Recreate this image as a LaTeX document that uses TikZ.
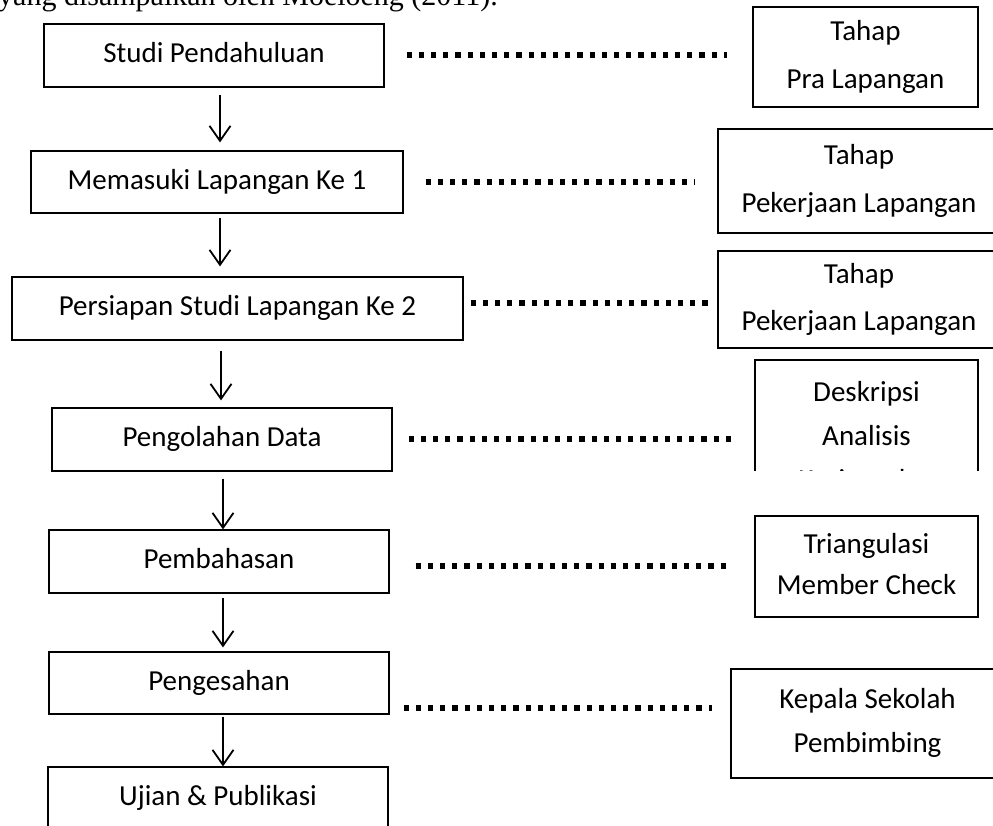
\documentclass[tikz,border=0pt]{standalone}
\usepackage{fontspec}
\setmainfont{Carlito}
\newfontfamily\headserif{Liberation Serif}
\usetikzlibrary{arrows.meta,calc}
\newcommand\zs{\vrule width 0pt height 20pt depth 6pt}
\begin{document}
\begin{tikzpicture}[x=1pt,y=-1pt,
  box/.style={draw=black, line width=1.2pt, rectangle, inner sep=0pt, align=center, font=\fontsize{29}{48}\selectfont},
  arr/.style={line width=1.8pt, -{Straight Barb[length=15pt,width=21pt]}},
  dotline/.style={line width=5.2pt, dash pattern=on 5.2pt off 7pt}]
\useasboundingbox (0,0) rectangle (993,825);
\clip (0,0) rectangle (993,825);

% cut-off heading line
\node[font=\headserif\fontsize{30}{36}\selectfont, anchor=base west, inner sep=0pt] (head) at (-2,5) {yang disampaikan oleh Moeloeng (2011).};

% left column
\node[box, minimum width=340pt, minimum height=63pt] (b1) at (214,55.5) {\zs Studi Pendahuluan};
\node[box, minimum width=372pt, minimum height=62pt] (b2) at (217,182) {\zs Memasuki Lapangan Ke 1};
\node[box, minimum width=451pt, minimum height=63pt] (b3) at (237.5,308.5) {\zs Persiapan Studi Lapangan Ke 2};
\node[box, minimum width=340pt, minimum height=63pt] (b4) at (222,439.5) {\zs Pengolahan Data};
\node[box, minimum width=340pt, minimum height=63pt] (b5) at (219,561.5) {\zs Pembahasan};
\node[box, minimum width=340pt, minimum height=62pt] (b6) at (219,683) {\zs Pengesahan};
\node[box, minimum width=340pt, minimum height=62pt] (b7) at (218,798) {\zs Ujian \& Publikasi};

% right column
\node[box, minimum width=225pt, minimum height=100pt] (r1) at (865.5,57) {\zs Tahap\\\zs Pra Lapangan};
\node[box, minimum width=282pt, minimum height=104pt] (r2) at (859,181) {\zs Tahap\\\zs Pekerjaan Lapangan};
\node[box, minimum width=282pt, minimum height=97pt, font={\fontsize{29}{47}\selectfont}] (r3) at (859,299.5) {\zs Tahap\\\zs Pekerjaan Lapangan};
\begin{scope}
\clip (740,350) rectangle (1000,470);
\node[box, minimum width=223pt, minimum height=156pt, font={\fontsize{29}{44}\selectfont}] (r4) at (866.5,438) {\zs Deskripsi\\\zs Analisis\\\zs Kesimpulan};
\end{scope}
\node[box, minimum width=223pt, minimum height=101pt, font={\fontsize{29}{41}\selectfont}] (r5) at (866.5,566.5) {\zs Triangulasi\\\zs Member Check};
\node[box, minimum width=273pt, minimum height=109pt, font={\fontsize{29}{44}\selectfont}] (r6) at (867.5,723.5) {\zs Kepala Sekolah\\\zs Pembimbing};

% arrows
\draw[arr] ($(b1.south)+(6,7)$) -- ($(b2.north)+(3,-8)$);
\draw[arr] ($(b2.south)+(3,4)$) -- ($(b3.north)+(-17.5,-10)$);
\draw[arr] ($(b3.south)+(-16.5,10)$) -- ($(b4.north)+(-1,-7)$);
\draw[arr] ($(b4.south)+(1,7)$) -- ($(b5.north)+(4,0)$);
\draw[arr] ($(b5.south)+(4,4)$) -- ($(b6.north)+(4,-4)$);
\draw[arr] ($(b6.south)+(4,2)$) -- ($(b7.north)+(5,0)$);

% dotted links
\draw[dotline] ($(b1.east)+(22,-0.5)$) -- ($(r1.west)+(-25,-2)$);
\draw[dotline] ($(b2.east)+(22,0)$) -- ($(r2.west)+(-23,1)$);
\draw[dotline] ($(b3.east)+(7,-5.5)$) -- ($(r3.west)+(-3,3.5)$);
\draw[dotline] ($(b4.east)+(16,-0.5)$) -- ($(r4.west)+(-20,1)$);
\draw[dotline] ($(b5.east)+(26,4.5)$) -- ($(r5.west)+(-28,-0.5)$);
\draw[dotline] ($(b6.east)+(14,25)$) -- ($(r6.west)+(-18,-15.5)$);
\end{tikzpicture}
\end{document}
